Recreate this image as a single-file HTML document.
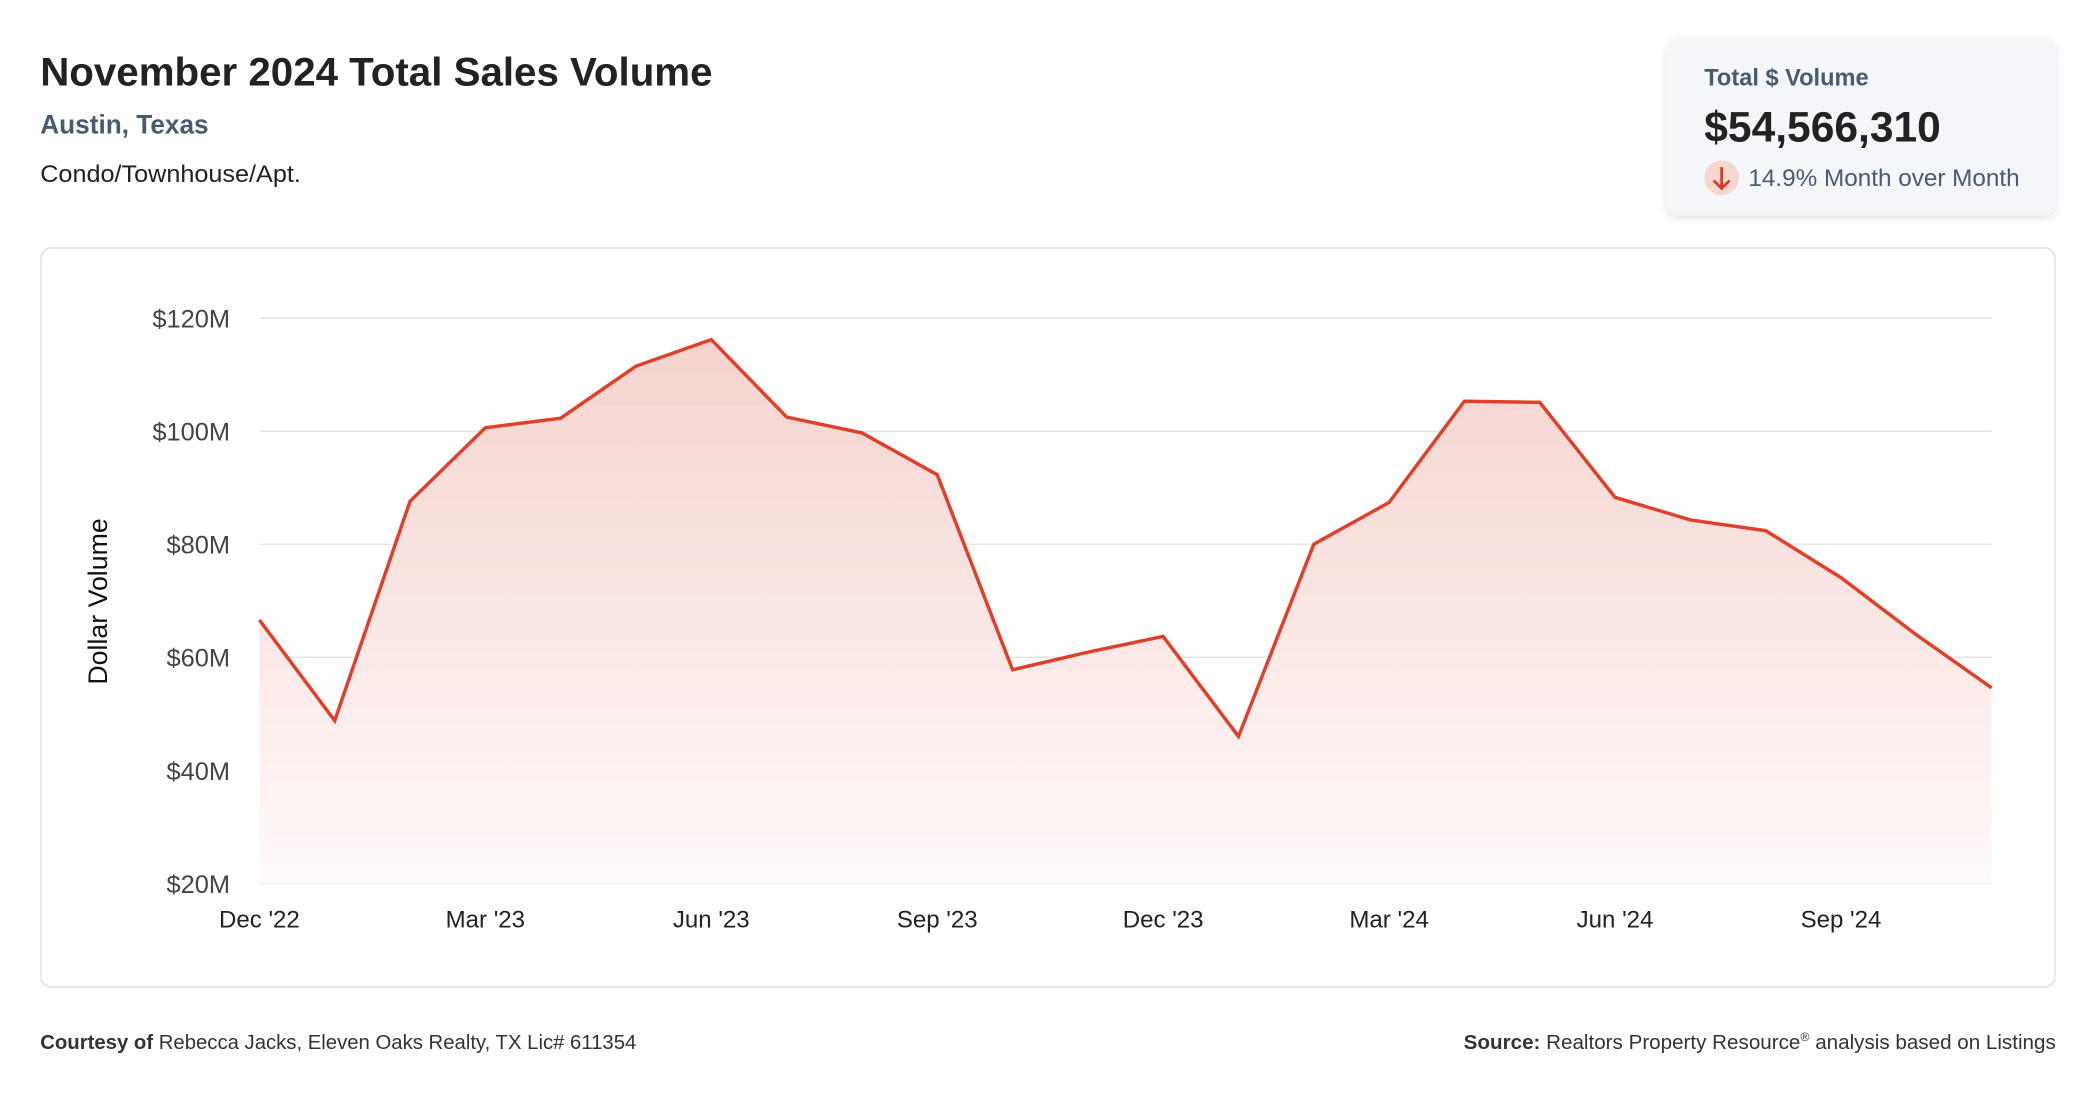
<!DOCTYPE html>
<html><head><meta charset="utf-8"><style>
html,body{margin:0;padding:0;background:#fff;}
svg{display:block;font-family:"Liberation Sans",sans-serif;}
</style></head><body>
<svg id="root" width="2096" height="1100" viewBox="0 0 1568 823">
<defs>
<linearGradient id="fillg" x1="0" y1="0" x2="0" y2="1">
<stop offset="0" stop-color="#f5d3ce"/><stop offset="1" stop-color="#fffafa"/>
</linearGradient>
<filter id="sh" x="-10%" y="-10%" width="120%" height="130%"><feDropShadow dx="0" dy="2" stdDeviation="3" flood-color="#000" flood-opacity="0.12"/></filter>
</defs>
<text x="30" y="64" font-size="30" font-weight="bold" fill="#222" textLength="503" lengthAdjust="spacingAndGlyphs">November 2024 Total Sales Volume</text>
<text x="30" y="100" font-size="20" font-weight="bold" fill="#4a5a72" textLength="126" lengthAdjust="spacingAndGlyphs">Austin, Texas</text>
<text x="30" y="136" font-size="18" fill="#222" textLength="195" lengthAdjust="spacingAndGlyphs">Condo/Townhouse/Apt.</text>

<g>
<rect x="1247" y="29" width="291" height="132" rx="8" fill="#f5f6f9" filter="url(#sh)"/>
<text x="1275" y="64" font-size="18" font-weight="bold" fill="#4a5a72" textLength="123" lengthAdjust="spacingAndGlyphs">Total $ Volume</text>
<text x="1275" y="106" font-size="32" font-weight="bold" fill="#222" textLength="177" lengthAdjust="spacingAndGlyphs">$54,566,310</text>
<g>
<circle cx="1288" cy="133" r="13" fill="#f8d5cf"/>
<path d="M1288 125 V141 M1282 135 L1288 141 L1294 135" stroke="#d8391f" stroke-width="2" fill="none"/>
</g>
<text x="1308" y="139" font-size="18" fill="#4a5a72" textLength="203" lengthAdjust="spacingAndGlyphs">14.9% Month over Month</text>
</g>

<rect x="30.5" y="185.5" width="1507" height="553" rx="8" fill="#fff" stroke="#dde1ea" stroke-width="1.2"/>
<g id="chart"></g>
<text transform="translate(80,450) rotate(-90)" text-anchor="middle" font-size="20" fill="#111">Dollar Volume</text>

<text x="30" y="785" font-size="15" fill="#333" textLength="446" lengthAdjust="spacingAndGlyphs"><tspan font-weight="bold">Courtesy of</tspan> Rebecca Jacks, Eleven Oaks Realty, TX Lic# 611354</text>
<text x="1538" y="785" font-size="15" fill="#333" text-anchor="end" textLength="443" lengthAdjust="spacingAndGlyphs"><tspan font-weight="bold">Source:</tspan> Realtors Property Resource<tspan font-size="9" dy="-6">®</tspan><tspan dy="6"> analysis based on Listings</tspan></text>
</svg>
<script>
const values = [66.6,48.8,87.6,100.6,102.3,111.5,116.2,102.5,99.7,92.3,57.8,60.9,63.7,46.0,80.0,87.4,105.3,105.1,88.3,84.3,82.4,74.1,64.0,54.6];
const yTicks = [20,40,60,80,100,120];
const yTickLabels = ["$20M","$40M","$60M","$80M","$100M","$120M"];
const xTickIdx = [0,3,6,9,12,15,18,21];
const xTickLabels = ["Dec '22","Mar '23","Jun '23","Sep '23","Dec '23","Mar '24","Jun '24","Sep '24"];

const NS="http://www.w3.org/2000/svg";
const g=document.getElementById('chart');
const x0=194,x1=1490,yTop=238,yBot=661,vMin=20,vMax=120;
const xs=i=>x0+(x1-x0)*i/(values.length-1);
const ys=v=>yBot-(v-vMin)/(vMax-vMin)*(yBot-yTop);
function mk(tag,attrs){const e=document.createElementNS(NS,tag);for(const k in attrs)e.setAttribute(k,attrs[k]);g.appendChild(e);return e;}
yTicks.forEach((t,i)=>{
  const l=mk('line',{x1:x0,x2:x1,y1:ys(t),y2:ys(t),stroke:'#e2e2e2','stroke-width':1});
  
  
  const tx=mk('text',{x:172,y:ys(t)+7,'text-anchor':'end','font-size':19,fill:'#444'});
  tx.textContent=yTickLabels[i];
  
  
});
const pts=values.map((v,i)=>xs(i)+','+ys(v));
const area=mk('polygon',{points:pts.join(' ')+' '+xs(values.length-1)+','+yBot+' '+x0+','+yBot,fill:'url(#fillg)'});


const line=mk('polyline',{points:pts.join(' '),fill:'none',stroke:'#e0402a','stroke-width':2.6,'stroke-linejoin':'miter'});


xTickIdx.forEach((idx,i)=>{
  const tx=mk('text',{x:xs(idx),y:694,'text-anchor':'middle','font-size':18,fill:'#222'});
  tx.textContent=xTickLabels[i];
  
  
});
</script>
</body></html>
